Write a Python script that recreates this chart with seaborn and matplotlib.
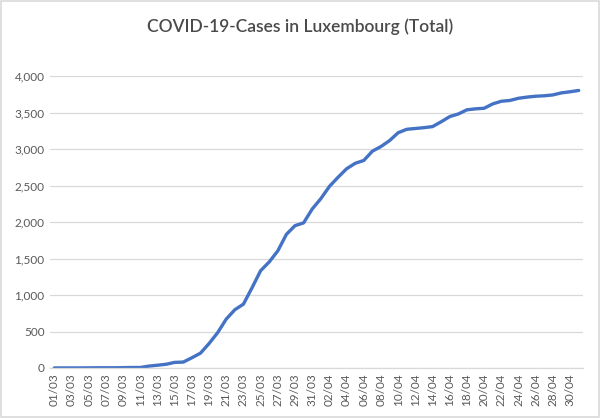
import numpy as np
import pandas as pd
import matplotlib
matplotlib.use("Agg")
import matplotlib.pyplot as plt
import seaborn as sns

# total cases per day, 01/03 to 01/05
march = [1, 1, 1, 1, 2, 3, 3, 3, 5, 7, 7, 26, 38, 51, 77, 81, 140, 203, 335, 484,
         670, 798, 875, 1099, 1333, 1453, 1605, 1831, 1950, 1988, 2178]
april = [2319, 2487, 2612, 2729, 2804, 2843, 2970, 3034, 3115, 3223, 3270, 3281,
         3292, 3307, 3373, 3444, 3480, 3537, 3550, 3558, 3618, 3654, 3665, 3695,
         3711, 3723, 3729, 3741, 3769, 3784]
may = [3802]

dates = ["%02d/03" % d for d in range(1, 32)] + ["%02d/04" % d for d in range(1, 31)] + ["01/05"]
cases = march + april + may
y_ticks = [0, 500, 1000, 1500, 2000, 2500, 3000, 3500, 4000]

df = pd.DataFrame({"date": dates, "cases": cases})
df["pos"] = np.arange(len(df))

sns.set_style("white")
plt.rcParams["font.family"] = ["Lato", "DejaVu Sans"]

grey_text = "#595959"
grid_col = "#D9D9D9"

fig = plt.figure(figsize=(6, 4.18), dpi=100)
ax = fig.add_axes([50 / 600, 50 / 418, 533 / 600, 292 / 418])

sns.lineplot(data=df, x="pos", y="cases", ax=ax, color="#4472C4", linewidth=2.4)

ax.set_xlim(-0.5, len(df) - 0.5)
ax.set_ylim(0, 4000)
ax.set_yticks(y_ticks)
ax.set_yticklabels(["{:,}".format(v) for v in y_ticks], color=grey_text, fontsize=8.5)
ax.set_xticks(df["pos"][::2])
ax.set_xticklabels(df["date"][::2], rotation=90, color=grey_text, fontsize=8.5)
ax.tick_params(axis="both", length=0, pad=4)
ax.yaxis.grid(True, color=grid_col, linewidth=0.9)
ax.set_axisbelow(True)
for s in ["left", "right", "top"]:
    ax.spines[s].set_visible(False)
ax.spines["bottom"].set_color(grid_col)
ax.spines["bottom"].set_linewidth(0.9)
ax.set_xlabel("")
ax.set_ylabel("")

fig.text(0.5, 1 - 27 / 418, "COVID-19-Cases in Luxembourg (Total)", ha="center", va="center",
         fontsize=12.5, fontweight="semibold", color="#4a4a4a")

# light border around the chart
fig.patches.append(plt.Rectangle((0.002, 0.002), 0.996, 0.995, transform=fig.transFigure,
                                 fill=False, edgecolor=grid_col, linewidth=1.2))

fig.savefig("out.png", dpi=100)
